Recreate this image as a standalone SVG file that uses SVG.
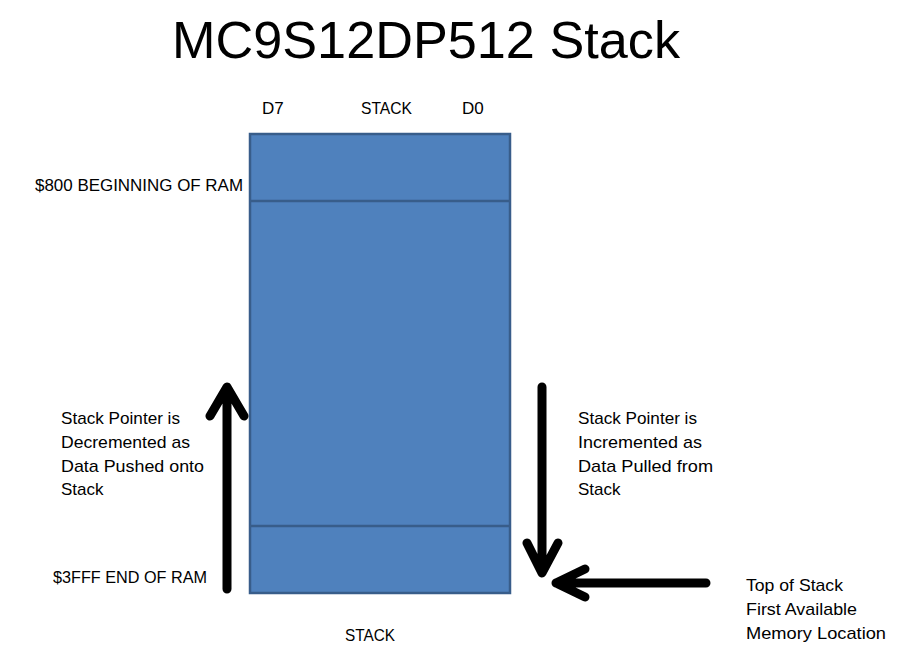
<svg xmlns="http://www.w3.org/2000/svg" width="909" height="649" viewBox="0 0 909 649">
<style>
.t{font-family:"Liberation Sans",Arial,sans-serif;font-size:17px;fill:#000}
.title{font-family:"Liberation Sans",Arial,sans-serif;font-size:52px;fill:#000}
.blk{fill:#4F81BD;stroke:#385D8A;stroke-width:2.5}
.arr{fill:none;stroke:#000;stroke-width:9;stroke-linecap:round;stroke-linejoin:round}
</style>
<rect width="909" height="649" fill="#fff"/>
<text class="title" x="172" y="58" textLength="508" lengthAdjust="spacingAndGlyphs">MC9S12DP512 Stack</text>
<g id="stack">
<rect class="blk" x="250" y="134" width="260" height="459"/>
<line x1="250" y1="201" x2="510" y2="201" stroke="#385D8A" stroke-width="2.5"/>
<line x1="250" y1="526" x2="510" y2="526" stroke="#385D8A" stroke-width="2.5"/>
</g>
<g id="labels">
<text class="t" x="262" y="114">D7</text>
<text class="t" x="361" y="114" textLength="51" lengthAdjust="spacingAndGlyphs">STACK</text>
<text class="t" x="462" y="114">D0</text>
<text class="t" x="35" y="191" textLength="208" lengthAdjust="spacingAndGlyphs">$800 BEGINNING OF RAM</text>
<text class="t" x="53" y="583" textLength="154" lengthAdjust="spacingAndGlyphs">$3FFF END OF RAM</text>
<text class="t" x="345" y="641" textLength="50" lengthAdjust="spacingAndGlyphs">STACK</text>
<text class="t" x="61" y="424" textLength="119" lengthAdjust="spacingAndGlyphs">Stack Pointer is</text>
<text class="t" x="61" y="448" textLength="129" lengthAdjust="spacingAndGlyphs">Decremented as</text>
<text class="t" x="61" y="472" textLength="143" lengthAdjust="spacingAndGlyphs">Data Pushed onto</text>
<text class="t" x="61" y="495">Stack</text>
<text class="t" x="578" y="424" textLength="119" lengthAdjust="spacingAndGlyphs">Stack Pointer is</text>
<text class="t" x="578" y="448" textLength="124" lengthAdjust="spacingAndGlyphs">Incremented as</text>
<text class="t" x="578" y="472" textLength="135" lengthAdjust="spacingAndGlyphs">Data Pulled from</text>
<text class="t" x="578" y="495">Stack</text>
<text class="t" x="746" y="591" textLength="97" lengthAdjust="spacingAndGlyphs">Top of Stack</text>
<text class="t" x="746" y="615" textLength="111" lengthAdjust="spacingAndGlyphs">First Available</text>
<text class="t" x="746" y="639" textLength="140" lengthAdjust="spacingAndGlyphs">Memory Location</text>
</g>
<g id="connectors">
<path class="arr" d="M227,589 V388 M210,416 L227,387 L244,416"/>
<path class="arr" d="M542,387 V572 M527,543 L542,573 L558,543"/>
<path class="arr" d="M706,583 H556 M585,569 L556,583 L585,597"/>
</g>
</svg>
